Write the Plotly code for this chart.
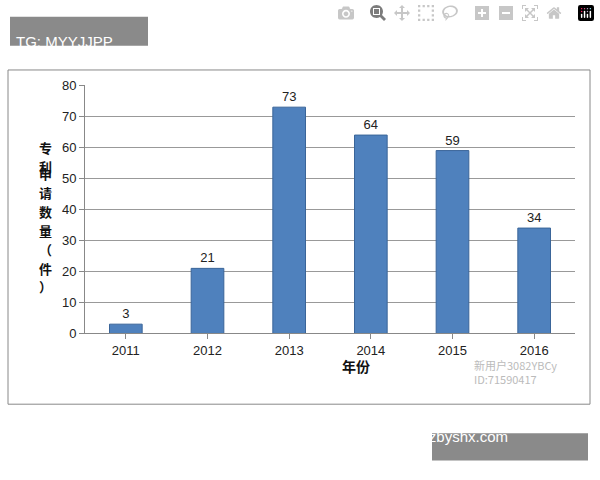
import plotly.graph_objects as go

years = ["2011", "2012", "2013", "2014", "2015", "2016"]
counts = [3, 21, 73, 64, 59, 34]
ytitle_chars = ["专", "利", "申", "请", "数", "量", "（", "件", "）"]

W, H = 600, 480
def px(x): return x / W
def py(y): return 1 - y / H

annotations = [
    dict(text="TG: MYYJJPP", x=px(14), y=py(25), xref="paper", yref="paper",
         xanchor="left", showarrow=False, font=dict(size=15, color="white")),
    dict(text="www.zbyshx.com", x=px(510), y=py(454), xref="paper", yref="paper",
         showarrow=False, font=dict(size=15, color="white")),
    dict(text="<b>年份</b>", x=px(356), y=py(383), xref="paper", yref="paper",
         showarrow=False, font=dict(size=14, color="#111", family="Noto Sans CJK SC")),
    dict(text="新用户3082YBCy<br>ID:71590417", x=px(472), y=py(394), xref="paper", yref="paper",
         xanchor="left", align="left", showarrow=False,
         font=dict(size=11, color="#bbb", family="Noto Sans CJK SC")),
]
for i, ch in enumerate(ytitle_chars):
    annotations.append(dict(text="<b>" + ch + "</b>", x=px(37), y=py(133 + i * 19.5),
                            xref="paper", yref="paper", showarrow=False,
                            font=dict(size=13, color="#111", family="Noto Sans CJK SC")))

fig = go.Figure(go.Bar(
    x=years, y=counts, text=[str(c) for c in counts], textposition="outside",
    textfont=dict(size=13, color="#222", family="Liberation Sans"),
    marker=dict(color="#4F81BD", line=dict(color="#3A6599", width=1)),
    cliponaxis=False,
))
fig.update_layout(
    width=W, height=H, margin=dict(l=0, r=0, t=0, b=0),
    paper_bgcolor="white", plot_bgcolor="white", bargap=0.6, showlegend=False,
    font=dict(family="Liberation Sans", color="#222"),
    xaxis=dict(domain=[px(85), px(575)], showline=True, linecolor="#888",
               ticks="outside", ticklen=5, tickcolor="#888", tickfont=dict(size=13)),
    yaxis=dict(domain=[py(337), py(81)], range=[0, 80], dtick=10,
               showgrid=True, gridcolor="#999", showline=True, linecolor="#888",
               ticks="outside", ticklen=5, tickcolor="#888", tickfont=dict(size=13), zeroline=False),
    shapes=[dict(type="rect", xref="paper", yref="paper", x0=px(8), x1=px(590),
                 y0=py(410), y1=py(65), line=dict(color="#888", width=1)),
            dict(type="rect", xref="paper", yref="paper", x0=px(10), x1=px(148),
                 y0=py(40), y1=py(10), fillcolor="#8a8a8a", line=dict(width=0)),
            dict(type="rect", xref="paper", yref="paper", x0=px(432), x1=px(588),
                 y0=py(468), y1=py(440), fillcolor="#8a8a8a", line=dict(width=0))],
    annotations=annotations,
)
fig.write_html("out.html", post_script="document.body.style.margin='0';document.body.style.overflow='hidden';")
